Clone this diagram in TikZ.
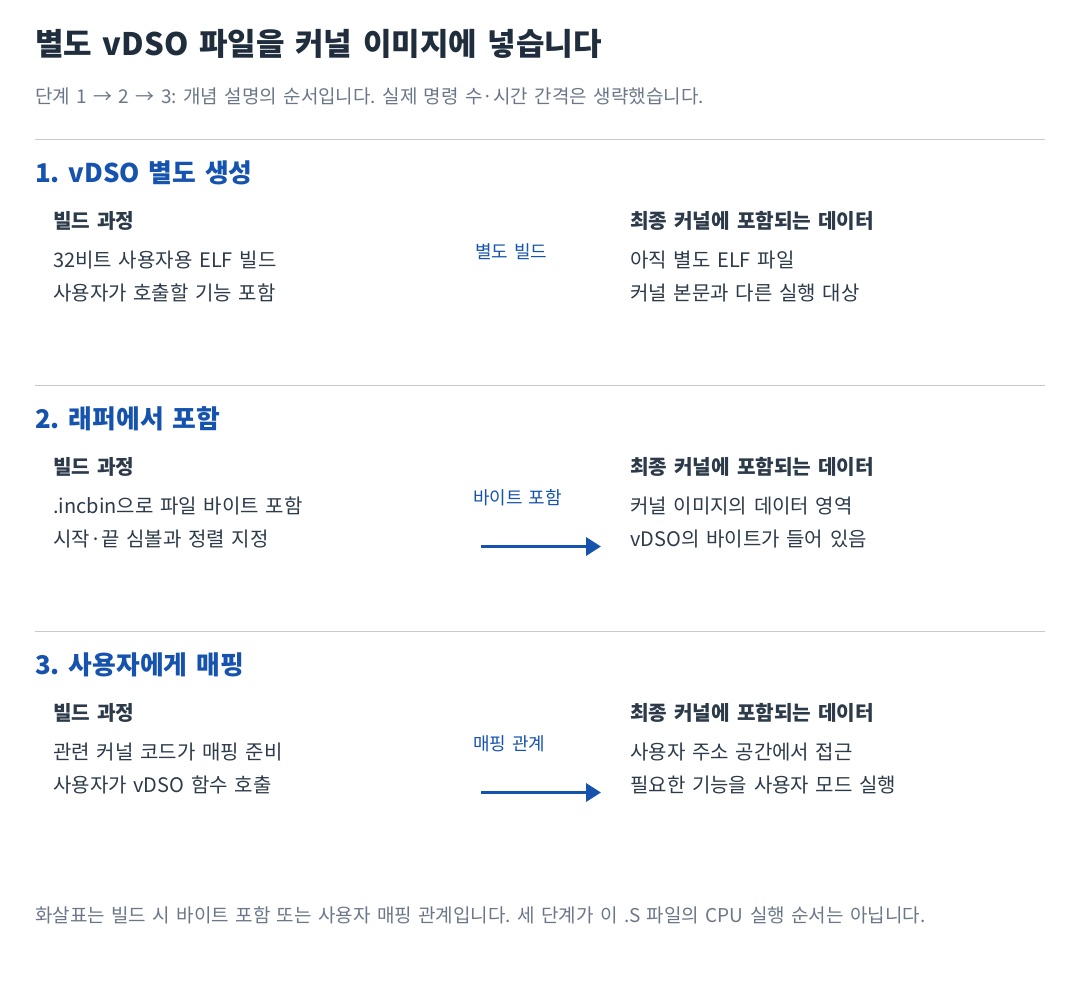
\documentclass[tikz,border=0pt]{standalone}
\usepackage{fontspec}
\setmainfont[WordSpace=1.5]{Noto Sans CJK KR}
\usetikzlibrary{positioning,arrows.meta}
\definecolor{ink}{HTML}{1F2D3D}
\definecolor{textc}{HTML}{2C3A4A}
\definecolor{greyc}{HTML}{6B7789}
\definecolor{bluec}{HTML}{1653AE}
\definecolor{rulec}{HTML}{C6CACE}
\frenchspacing

\begin{document}
\begin{tikzpicture}[x=1pt, y=-1pt, node distance={33pt},
  title/.style = {anchor=base west, inner sep=0pt, font=\fontsize{31}{36}\selectfont\bfseries, text=ink},
  note/.style = {anchor=base west, inner sep=0pt, font=\fontsize{19}{22}\selectfont, text=greyc},
  section/.style = {anchor=base west, inner sep=0pt, font=\fontsize{25.8}{30}\selectfont\bfseries, text=bluec},
  colhead/.style = {anchor=base west, inner sep=0pt, font=\fontsize{20.2}{24}\selectfont\bfseries, text=textc},
  item/.style = {anchor=base west, inner sep=0pt, font=\fontsize{20}{24}\selectfont, text=textc},
  tag/.style = {anchor=base west, inner sep=0pt, font=\fontsize{18}{20}\selectfont, text=bluec},
  sep/.style = {draw=rulec, line width=1pt},
  link/.style = {draw=bluec, line width=3.5pt, -{Triangle[length=15pt,width=18pt]}}]
                \useasboundingbox (0,0) rectangle (1080,990);

                \node[title] (title) at (35,56) {별도 vDSO 파일을 커널 이미지에 넣습니다};
                \node[note] (sub) at (35,103) {단계 1 → 2 → 3: 개념 설명의 순서입니다. 실제 명령 수·시간 간격은 생략했습니다.};

                \draw[sep] (35,139) -- (1045,139);
                \node[section] (s1) at (35,182) {1. vDSO 별도 생성};
                \node[colhead] (h1l) at (53,228) {빌드 과정};
                \node[below=39pt of h1l.base west, item] (l1a) {32비트 사용자용 ELF 빌드};
                \node[below=of l1a.base west, item] (l1b) {사용자가 호출할 기능 포함};
                \node[tag] (t1) at (475,258) {별도 빌드};
                \node[colhead] (h1r) at (630,228) {최종 커널에 포함되는 데이터};
                \node[below=39pt of h1r.base west, item] (r1a) {아직 별도 ELF 파일};
                \node[below=of r1a.base west, item] (r1b) {커널 본문과 다른 실행 대상};

                \draw[sep] (35,385) -- (1045,385);
                \node[section] (s2) at (35,428) {2. 래퍼에서 포함};
                \node[colhead] (h2l) at (53,474) {빌드 과정};
                \node[below=39pt of h2l.base west, item] (l2a) {.incbin으로 파일 바이트 포함};
                \node[below=of l2a.base west, item] (l2b) {시작·끝 심볼과 정렬 지정};
                \node[tag] (t2) at (473,504) {바이트 포함};
                \coordinate (a2s) at (481,546.5);
                \coordinate (a2e) at (601,546.5);
                \draw[link] (a2s) -- (a2e);
                \node[colhead] (h2r) at (630,474) {최종 커널에 포함되는 데이터};
                \node[below=39pt of h2r.base west, item] (r2a) {커널 이미지의 데이터 영역};
                \node[below=of r2a.base west, item] (r2b) {vDSO의 바이트가 들어 있음};

                \draw[sep] (35,631) -- (1045,631);
                \node[section] (s3) at (35,674) {3. 사용자에게 매핑};
                \node[colhead] (h3l) at (53,720) {빌드 과정};
                \node[below=39pt of h3l.base west, item] (l3a) {관련 커널 코드가 매핑 준비};
                \node[below=of l3a.base west, item] (l3b) {사용자가 vDSO 함수 호출};
                \node[tag] (t3) at (473,750) {매핑 관계};
                \coordinate (a3s) at (481,792.5);
                \coordinate (a3e) at (601,792.5);
                \draw[link] (a3s) -- (a3e);
                \node[colhead] (h3r) at (630,720) {최종 커널에 포함되는 데이터};
                \node[below=39pt of h3r.base west, item] (r3a) {사용자 주소 공간에서 접근};
                \node[below=of r3a.base west, item] (r3b) {필요한 기능을 사용자 모드 실행};

                \node[note] (foot) at (35,922) {화살표는 빌드 시 바이트 포함 또는 사용자 매핑 관계입니다. 세 단계가 이 .S 파일의 CPU 실행 순서는 아닙니다.};
\end{tikzpicture}
\end{document}
